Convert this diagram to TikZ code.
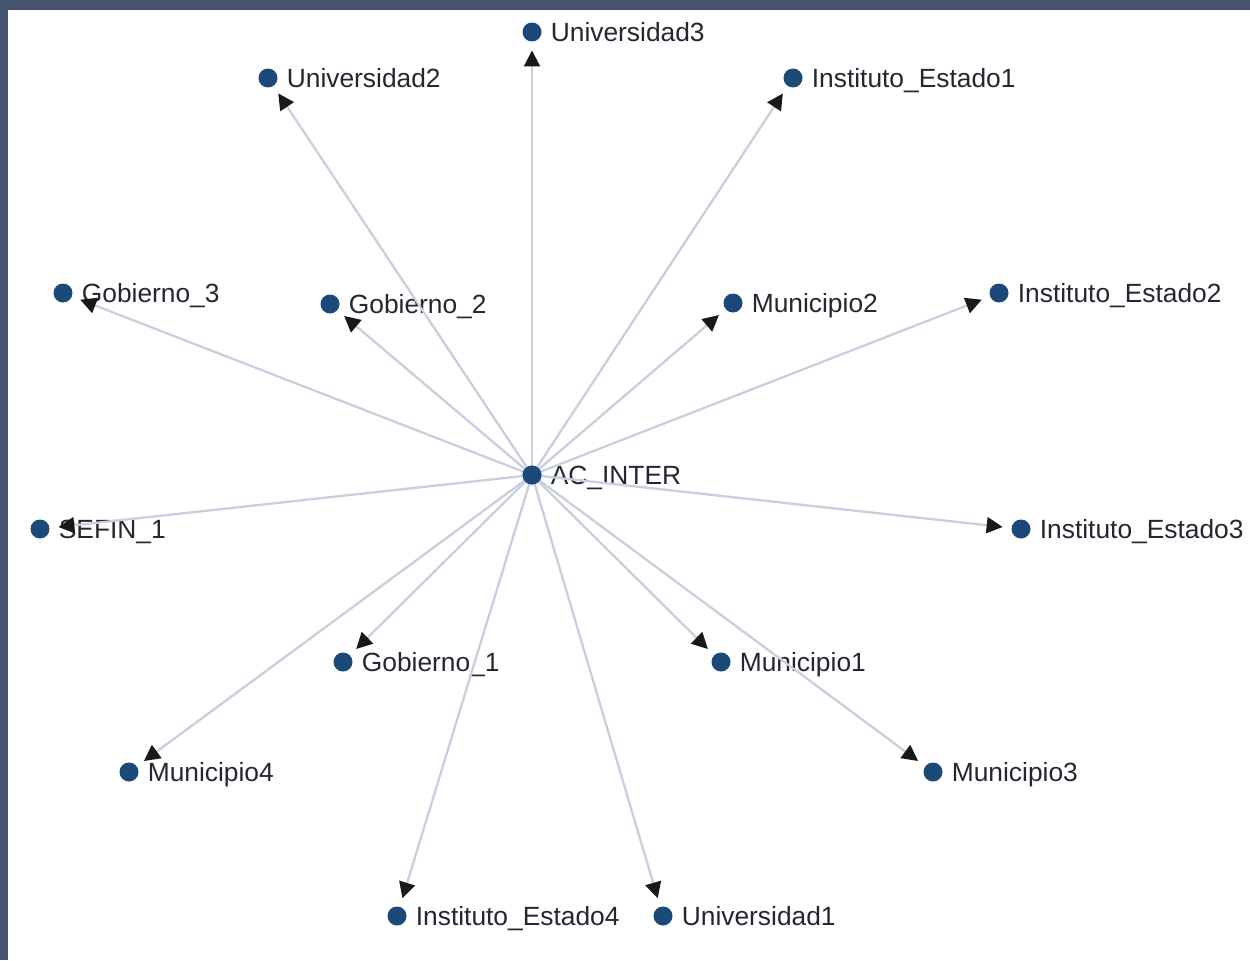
\documentclass[tikz,border=0pt]{standalone}
\usepackage{fontspec}
\setmainfont{Liberation Sans}
\usepackage{tikz}
\usetikzlibrary{arrows.meta}
\definecolor{frame}{HTML}{46536F}
\definecolor{dotblue}{HTML}{1B4A78}
\definecolor{linkgray}{HTML}{C9CFDF}
\definecolor{labeltext}{HTML}{262633}

\begin{document}
\begin{tikzpicture}[x=0.02cm, y=-0.02cm,
                dot/.style={circle, fill=dotblue, inner sep=0pt, outer sep=0pt, minimum size=0.38cm,
                        label={[label distance=0.18cm, inner sep=0pt, yshift=-0.06cm, text=labeltext, text height=0.72em, text depth=0pt,
                        font=\fontsize{15}{18}\selectfont]right:#1}},
                link/.style={draw=linkgray, line width=1.3pt, shorten >=0.18cm,
                        -{Triangle[length=0.32cm, width=0.32cm, fill=black!90, color=black!90]}}]
                \fill[frame] (0,0) rectangle (1250,960);
                \fill[white] (8,10) rectangle (1250,960);
                \useasboundingbox (0,0) rectangle (1250,960);
                \node[dot=AC\_INTER] (acinter) at (532,475) {};
                \node[dot=Universidad3] (univ3) at (532,32) {};
                \node[dot=Universidad2] (univ2) at (268,78) {};
                \node[dot=Instituto\_Estado1] (inst1) at (793,78) {};
                \node[dot=Gobierno\_3] (gob3) at (63,293) {};
                \node[dot=Gobierno\_2] (gob2) at (330,304) {};
                \node[dot=Municipio2] (mun2) at (733,303) {};
                \node[dot=Instituto\_Estado2] (inst2) at (999,293) {};
                \node[dot=SEFIN\_1] (sefin1) at (40,529) {};
                \node[dot=Instituto\_Estado3] (inst3) at (1021,529) {};
                \node[dot=Gobierno\_1] (gob1) at (343,662) {};
                \node[dot=Municipio1] (mun1) at (721,662) {};
                \node[dot=Municipio4] (mun4) at (129,772) {};
                \node[dot=Municipio3] (mun3) at (933,772) {};
                \node[dot=Instituto\_Estado4] (inst4) at (397,916) {};
                \node[dot=Universidad1] (univ1) at (663,916) {};
                \draw[link]
                (acinter) edge (univ3)
                (acinter) edge (univ2)
                (acinter) edge (inst1)
                (acinter) edge (gob3)
                (acinter) edge (gob2)
                (acinter) edge (mun2)
                (acinter) edge (inst2)
                (acinter) edge (sefin1)
                (acinter) edge (inst3)
                (acinter) edge (gob1)
                (acinter) edge (mun1)
                (acinter) edge (mun4)
                (acinter) edge (mun3)
                (acinter) edge (inst4)
                (acinter) edge (univ1);
                \node[circle, fill=dotblue, inner sep=0pt, minimum size=0.38cm] at (acinter) {};
            \end{tikzpicture}
\end{document}
